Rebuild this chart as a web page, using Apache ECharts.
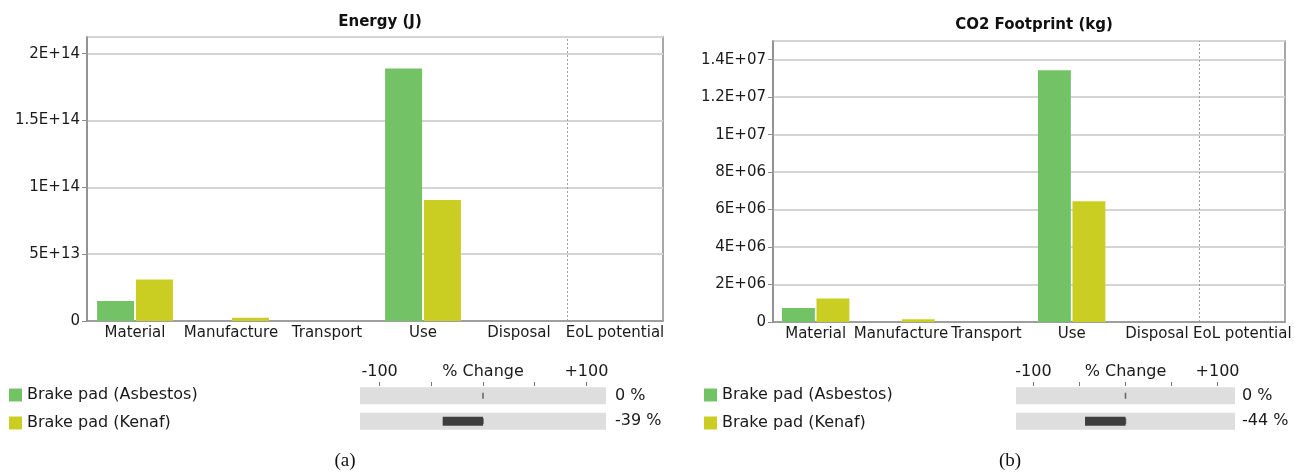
<!DOCTYPE html>
<html><head><meta charset="utf-8">
<script src="https://cdn.jsdelivr.net/npm/echarts@6/dist/echarts.min.js"></script>
<style>html,body{margin:0;padding:0;background:#fff}#c{width:1298px;height:472px}</style>
</head><body><div id="c"></div>
<script>
const categories = ['Material', 'Manufacture', 'Transport', 'Use', 'Disposal', 'EoL potential'];
const seriesNames = ['Brake pad (Asbestos)', 'Brake pad (Kenaf)'];
const energyAsbestos = [1.5e13, 0, 0, 1.89e14, 0, 0];
const energyKenaf = [3.1e13, 2.5e12, 0, 9.06e13, 0, 0];
const co2Asbestos = [7.5e5, 0, 0, 1.344e7, 0, 0];
const co2Kenaf = [1.25e6, 1.5e5, 0, 6.45e6, 0, 0];
const energyChange = [0, -39];
const co2Change = [0, -44];
const changeTickValues = [-100, -50, 0, 50, 100];
const changeLabelValues = [-100, 0, 100];
const changeLabelTexts = ['-100', '% Change', '+100'];
const separatorAfter = 5; // dotted line before 'EoL potential'

const FONT = 'DejaVu Sans';
const GREEN = '#74c266';
const YELLOW = '#cbce22';

function sci(v) {
  if (v === 0) return '0';
  const e = Math.floor(Math.log10(v) + 1e-9);
  const m = parseFloat((v / Math.pow(10, e)).toFixed(2));
  return m + 'E+' + (e < 10 ? '0' + e : e);
}

function mainGrid(left, top, width, height) {
  return { left, top, width, height, show: true, borderColor: '#8c8c8c', borderWidth: 1.5, backgroundColor: '#fff' };
}
function catAxis(gi) {
  return {
    type: 'category', gridIndex: gi, data: categories,
    axisLine: { lineStyle: { color: '#8c8c8c', width: 1.5 } },
    axisTick: { show: false },
    axisLabel: { color: '#1a1a1a', fontFamily: FONT, fontSize: 15, margin: 5, interval: 0 },
    splitLine: { show: false }
  };
}
function posAxis(gi) {
  return { type: 'value', gridIndex: gi, min: 0, max: categories.length, show: false };
}
function valAxis(gi, max, interval) {
  return {
    type: 'value', gridIndex: gi, min: 0, max, interval,
    axisLine: { show: true, lineStyle: { color: '#8c8c8c', width: 1.5 } },
    axisTick: { show: true, length: 5, lineStyle: { color: '#8c8c8c' } },
    axisLabel: { color: '#1a1a1a', fontFamily: FONT, fontSize: 15, margin: 7, showMaxLabel: false, formatter: sci },
    splitLine: { show: true, lineStyle: { color: '#d4d4d4', width: 2 } }
  };
}
function chgXAxis(gi) {
  return {
    type: 'value', gridIndex: gi, position: 'top', min: -119, max: 119, offset: -3,
    axisLine: { show: false },
    axisTick: { show: true, length: 4, customValues: changeTickValues, lineStyle: { color: '#777' } },
    axisLabel: { show: true, customValues: changeLabelValues, margin: 6, color: '#1a1a1a', fontFamily: FONT, fontSize: 16,
      formatter: (v) => changeLabelTexts[changeLabelValues.indexOf(v)] },
    splitLine: { show: false }
  };
}
function chgYAxes(gi, arr, margin) {
  return [{
    type: 'category', gridIndex: gi, data: seriesNames, inverse: true, position: 'right',
    axisLine: { show: false }, axisTick: { show: false },
    axisLabel: { margin, align: 'left', color: '#1a1a1a', fontFamily: FONT, fontSize: 16,
      formatter: (v, i) => arr[i] + ' %' }
  }, {
    type: 'category', gridIndex: gi, data: seriesNames, inverse: true, show: false
  }];
}
function barSeries(name, xi, data, color) {
  return { type: 'bar', name, xAxisIndex: xi, yAxisIndex: xi, data,
    barCategoryGap: '21%', barGap: '5%',
    itemStyle: { color }, emphasis: { disabled: true }, silent: true };
}
function sepSeries(xi, yi) {
  return { type: 'line', xAxisIndex: xi, yAxisIndex: yi, data: [], silent: true,
    markLine: { silent: true, symbol: 'none', label: { show: false },
      lineStyle: { type: [2, 2], color: '#a0a0a0', width: 1 },
      data: [{ xAxis: separatorAfter }] } };
}
function chgSeries(xi, yBg, yFg, arr) {
  return [
    { type: 'bar', xAxisIndex: xi, yAxisIndex: yBg, data: arr.map(() => 0), barWidth: 17,
      showBackground: true, backgroundStyle: { color: '#dedede' }, itemStyle: { color: 'transparent' }, silent: true },
    { type: 'scatter', xAxisIndex: xi, yAxisIndex: yFg, data: arr.map(() => 0), symbol: 'rect',
      symbolSize: [1.5, 6], itemStyle: { color: '#444' }, silent: true, z: 3 },
    { type: 'bar', xAxisIndex: xi, yAxisIndex: yFg, data: arr, barWidth: 9,
      itemStyle: { color: '#3e3e3e' }, silent: true, z: 4 }
  ];
}

const chart = echarts.init(document.getElementById('c'), null, { renderer: 'canvas' });
const y2 = chgYAxes(2, energyChange, 9);
const y3 = chgYAxes(3, co2Change, 7);
const legendBase = { data: seriesNames, orient: 'vertical', top: 387, padding: 0, itemWidth: 13, itemHeight: 13, itemGap: 12, icon: 'rect',
  selectedMode: false, textStyle: { fontFamily: FONT, fontSize: 16, color: '#1a1a1a' } };
chart.setOption({
  animation: false,
  backgroundColor: '#fff',
  textStyle: { fontFamily: FONT },
  title: [
    { text: 'Energy (J)', left: 375, top: 10, textAlign: 'center', textStyle: { fontFamily: FONT, fontSize: 15, fontWeight: 'bold', color: '#111' } },
    { text: 'CO2 Footprint (kg)', left: 1029, top: 13, textAlign: 'center', textStyle: { fontFamily: FONT, fontSize: 15, fontWeight: 'bold', color: '#111' } },
    { text: '(a)', left: 340, top: 447, textAlign: 'center', textStyle: { fontFamily: 'Liberation Serif', fontSize: 19, fontWeight: 'normal', color: '#111' } },
    { text: '(b)', left: 1005, top: 447, textAlign: 'center', textStyle: { fontFamily: 'Liberation Serif', fontSize: 19, fontWeight: 'normal', color: '#111' } }
  ],
  legend: [
    Object.assign({}, legendBase, { left: 9 }),
    Object.assign({}, legendBase, { left: 704 })
  ],
  grid: [
    mainGrid(87, 37, 576, 284),
    mainGrid(773, 41, 512, 281),
    { left: 360, top: 383, width: 246, height: 51, show: false },
    { left: 1016, top: 383, width: 219, height: 51, show: false }
  ],
  xAxis: [catAxis(0), catAxis(1), chgXAxis(2), chgXAxis(3), posAxis(0), posAxis(1)],
  yAxis: [valAxis(0, 2.125e14, 5e13), valAxis(1, 1.5e7, 2e6), y2[0], y3[0], y2[1], y3[1]],
  series: [
    barSeries(seriesNames[0], 0, energyAsbestos, GREEN),
    barSeries(seriesNames[1], 0, energyKenaf, YELLOW),
    barSeries(seriesNames[0], 1, co2Asbestos, GREEN),
    barSeries(seriesNames[1], 1, co2Kenaf, YELLOW),
    sepSeries(4, 0),
    sepSeries(5, 1),
    ...chgSeries(2, 2, 4, energyChange),
    ...chgSeries(3, 3, 5, co2Change)
  ]
});
</script>
</body></html>
